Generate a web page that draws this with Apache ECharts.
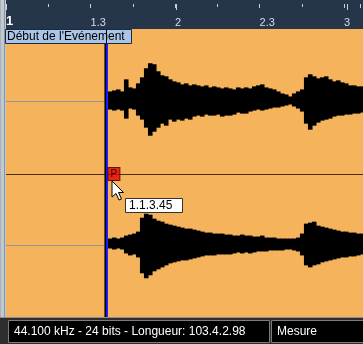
<!DOCTYPE html>
<html><head><meta charset="utf-8">
<script src="https://cdn.jsdelivr.net/npm/echarts@6/dist/echarts.min.js"></script>
<style>html,body{margin:0;padding:0;background:#25364a}#c{width:363px;height:344px}</style>
</head><body><div id="c"></div>
<script>
// Ruler (bars.beats)
const rulerTickAt = [1, 1.5, 2, 2.5, 3];
const rulerLabels = ['1', '1.3', '2', '2.3', '3'];
// Event start and waveform sampling (in bars)
const eventStart = 1.592;
const waveStart = 1.598;
const sampleStep = 0.02346;
// Envelope amplitudes (relative units, channel half-height = 72)
const ch1Top = [10,11,12,10,22,14,13,18,24,33,38,37,30,26,25,22,20,19,17,18,16,17,16,15,16,14,15,14,13,14,13,12,14,13,14,13,15,16,17,14,13,12,10,8,7,5,8,10,12,24,27,25,23,24,25,22,20,21,19,18,16,16,15,15];
const ch1Bot = [8,9,8,9,17,7,8,14,18,26,34,30,26,22,24,18,20,18,19,17,18,15,14,15,13,14,14,13,15,14,14,13,11,12,12,10,9,8,9,8,7,6,6,5,4,3,5,7,10,22,28,24,21,19,18,17,15,14,14,13,13,12,12,11];
const ch2Top = [7,8,7,8,10,11,12,14,28,32,31,27,25,24,22,21,20,19,18,17,17,16,15,14,13,13,12,12,12,11,11,10,10,11,10,10,9,9,10,8,8,8,7,7,7,7,7,8,12,22,23,24,20,19,18,17,16,15,14,14,13,13,12,12];
const ch2Bot = [3,4,3,4,8,10,9,12,28,33,30,26,24,22,20,18,17,16,15,15,14,13,12,11,10,10,10,9,9,9,9,8,7,8,7,8,7,6,6,6,5,5,5,5,4,4,5,6,10,20,22,20,19,17,16,15,14,13,12,12,11,11,10,9];
const positionText = '1.1.3.45';
const statusText = '44.100 kHz - 24 bits - Longueur: 103.4.2.98';
const modeText = 'Mesure';
const eventLabel = "Début de l'Evénement";

const X_MIN = 1, X_MAX = 3.094;
const FONT = 'Liberation Sans, Arial, sans-serif';
const ORANGE = '#f5b45c';
const TICK = '#c8d0da';

function env(top, bot) {
  return top.map((t, i) => [waveStart + i * sampleStep, t, -bot[i]]);
}
function waveSeries(data, xi, yi) {
  return {
    type: 'custom', xAxisIndex: xi, yAxisIndex: yi, clip: true, z: 2,
    data: data,
    encode: { x: 0, y: [1, 2] },
    renderItem: function (params, api) {
      const x0 = api.value(0);
      const p1 = api.coord([x0, api.value(1)]);
      const p2 = api.coord([x0 + sampleStep, api.value(2)]);
      return { type: 'rect', shape: { x: p1[0], y: p1[1], width: p2[0] - p1[0] + 0.6, height: p2[1] - p1[1] },
        style: { fill: '#000' } };
    }
  };
}
function startLine(xi, yi) {
  return {
    type: 'line', xAxisIndex: xi, yAxisIndex: yi, z: 4, symbol: 'none', silent: true,
    data: [[eventStart, -72], [eventStart, 72]],
    lineStyle: { color: '#1414ff', width: 2, shadowColor: '#000', shadowOffsetX: -1.5, shadowBlur: 0 }
  };
}
function hiddenY(gi) {
  return { type: 'value', gridIndex: gi, min: -72, max: 72, show: false };
}
function waveX(gi) {
  return { type: 'value', gridIndex: gi, min: X_MIN, max: X_MAX, position: 'bottom',
    axisLine: { show: true, onZero: true, lineStyle: { color: '#949494', width: 1 } },
    axisTick: { show: false }, axisLabel: { show: false }, splitLine: { show: false } };
}

const chart = echarts.init(document.getElementById('c'), null, { renderer: 'canvas' });
chart.setOption({
  backgroundColor: '#25364a',
  animation: false,
  grid: [
    { left: 6, right: 0, top: 4, height: 25 },
    { left: 6, right: 0, top: 4, height: 25 },
    { left: 6, right: 0, top: 29, height: 145, show: true, backgroundColor: ORANGE, borderWidth: 0 },
    { left: 6, right: 0, top: 174, height: 143, show: true, backgroundColor: ORANGE, borderWidth: 0 }
  ],
  xAxis: [
    { type: 'value', gridIndex: 0, min: X_MIN, max: X_MAX, interval: 0.5, position: 'top',
      axisLine: { show: false, onZero: false }, axisLabel: { show: false }, splitLine: { show: false },
      axisTick: { show: true, inside: true, length: 4, lineStyle: { color: TICK } },
      minorTick: { show: true, splitNumber: 2, length: 3, lineStyle: { color: TICK } } },
    { type: 'value', gridIndex: 0, min: X_MIN, max: X_MAX, interval: 0.5, position: 'bottom',
      axisLine: { show: false, onZero: false }, axisTick: { show: false }, splitLine: { show: false },
      axisLabel: { show: true, inside: true, margin: 1, align: 'left', color: '#d6dde6', fontSize: 11, fontFamily: FONT,
        formatter: function (v) {
          const i = rulerTickAt.findIndex(t => Math.abs(t - v) < 1e-6);
          if (i < 0) return '';
          return i === 0 ? '{b|' + rulerLabels[i] + '}' : rulerLabels[i];
        },
        rich: { b: { fontWeight: 'bold', fontSize: 13, color: '#ffffff', fontFamily: FONT } } } },
    { type: 'value', gridIndex: 1, min: X_MIN, max: X_MAX, interval: 1, position: 'top',
      axisLine: { show: false, onZero: false }, axisLabel: { show: false }, splitLine: { show: false },
      axisTick: { show: true, inside: true, length: 6, lineStyle: { color: TICK } } },
    waveX(2),
    waveX(3)
  ],
  yAxis: [
    { type: 'value', gridIndex: 0, min: 0, max: 1, show: false },
    { type: 'value', gridIndex: 1, min: 0, max: 1, show: false },
    hiddenY(2), hiddenY(3)
  ],
  series: [
    waveSeries(env(ch1Top, ch1Bot), 3, 2),
    waveSeries(env(ch2Top, ch2Bot), 4, 3),
    startLine(3, 2),
    startLine(4, 3),
    { type: 'scatter', xAxisIndex: 3, yAxisIndex: 2, z: 10, silent: true,
      data: [[eventStart, -72]], symbol: 'rect', symbolSize: [12, 13], symbolOffset: [7, 0],
      itemStyle: { color: '#e60000', borderColor: '#3a0000', borderWidth: 1 },
      label: { show: true, position: 'inside', formatter: 'P', color: '#000', fontSize: 10, fontFamily: FONT } }
  ],
  graphic: [
    // left strip
    { type: 'rect', z: 20, shape: { x: 0, y: 0, width: 6, height: 317 }, style: { fill: '#c3c9d0' } },
    { type: 'line', z: 21, shape: { x1: 4.5, y1: 0, x2: 4.5, y2: 317 }, style: { stroke: '#8a939c', lineWidth: 1 } },
    { type: 'line', z: 21, shape: { x1: 0.5, y1: 0, x2: 0.5, y2: 317 }, style: { stroke: '#a8b0b8', lineWidth: 1 } },
    // channel separator
    { type: 'line', z: 3, shape: { x1: 6, y1: 174.5, x2: 363, y2: 174.5 }, style: { stroke: '#4a2e0c', lineWidth: 1 } },
    // event label
    { type: 'rect', z: 30, shape: { x: 5.5, y: 29.5, width: 126, height: 14 },
      style: { fill: '#a9c5e8', stroke: '#1e2a38', lineWidth: 1 } },
    { type: 'text', z: 31, x: 7, y: 37, style: { text: eventLabel, fill: '#000', font: '12px ' + FONT, verticalAlign: 'middle' } },
    { type: 'line', z: 32, shape: { x1: 106.5, y1: 30, x2: 106.5, y2: 43 }, style: { stroke: '#000', lineWidth: 1 } },
    // mouse cursor
    { type: 'polygon', z: 40, x: 112, y: 181,
      shape: { points: [[0,0],[0,16],[4,12.5],[7,19],[9.5,18],[6.5,11.5],[11.5,11.5]] },
      style: { fill: '#fff', stroke: '#000', lineWidth: 1 } },
    // position tooltip
    { type: 'rect', z: 40, shape: { x: 125.5, y: 198.5, width: 57, height: 14 },
      style: { fill: '#fff', stroke: '#333', lineWidth: 1 } },
    { type: 'text', z: 41, x: 129, y: 206, style: { text: positionText, fill: '#000', font: '12px ' + FONT, verticalAlign: 'middle' } },
    // status bar
    { type: 'rect', z: 20, shape: { x: 0, y: 317, width: 363, height: 27 }, style: { fill: '#2e2e2e' } },
    { type: 'line', z: 21, shape: { x1: 0, y1: 317.5, x2: 363, y2: 317.5 }, style: { stroke: '#8c8c8c', lineWidth: 1 } },
    { type: 'rect', z: 21, shape: { x: 8.5, y: 320.5, width: 261, height: 22 }, style: { fill: '#000', stroke: '#7c7c7c', lineWidth: 1 } },
    { type: 'rect', z: 21, shape: { x: 271.5, y: 320.5, width: 92, height: 22 }, style: { fill: '#000', stroke: '#7c7c7c', lineWidth: 1 } },
    { type: 'text', z: 22, x: 14, y: 332, style: { text: statusText, fill: '#fff', font: '12px ' + FONT, verticalAlign: 'middle' } },
    { type: 'text', z: 22, x: 277, y: 332, style: { text: modeText, fill: '#fff', font: '12px ' + FONT, verticalAlign: 'middle' } }
  ]
});
</script></body></html>
